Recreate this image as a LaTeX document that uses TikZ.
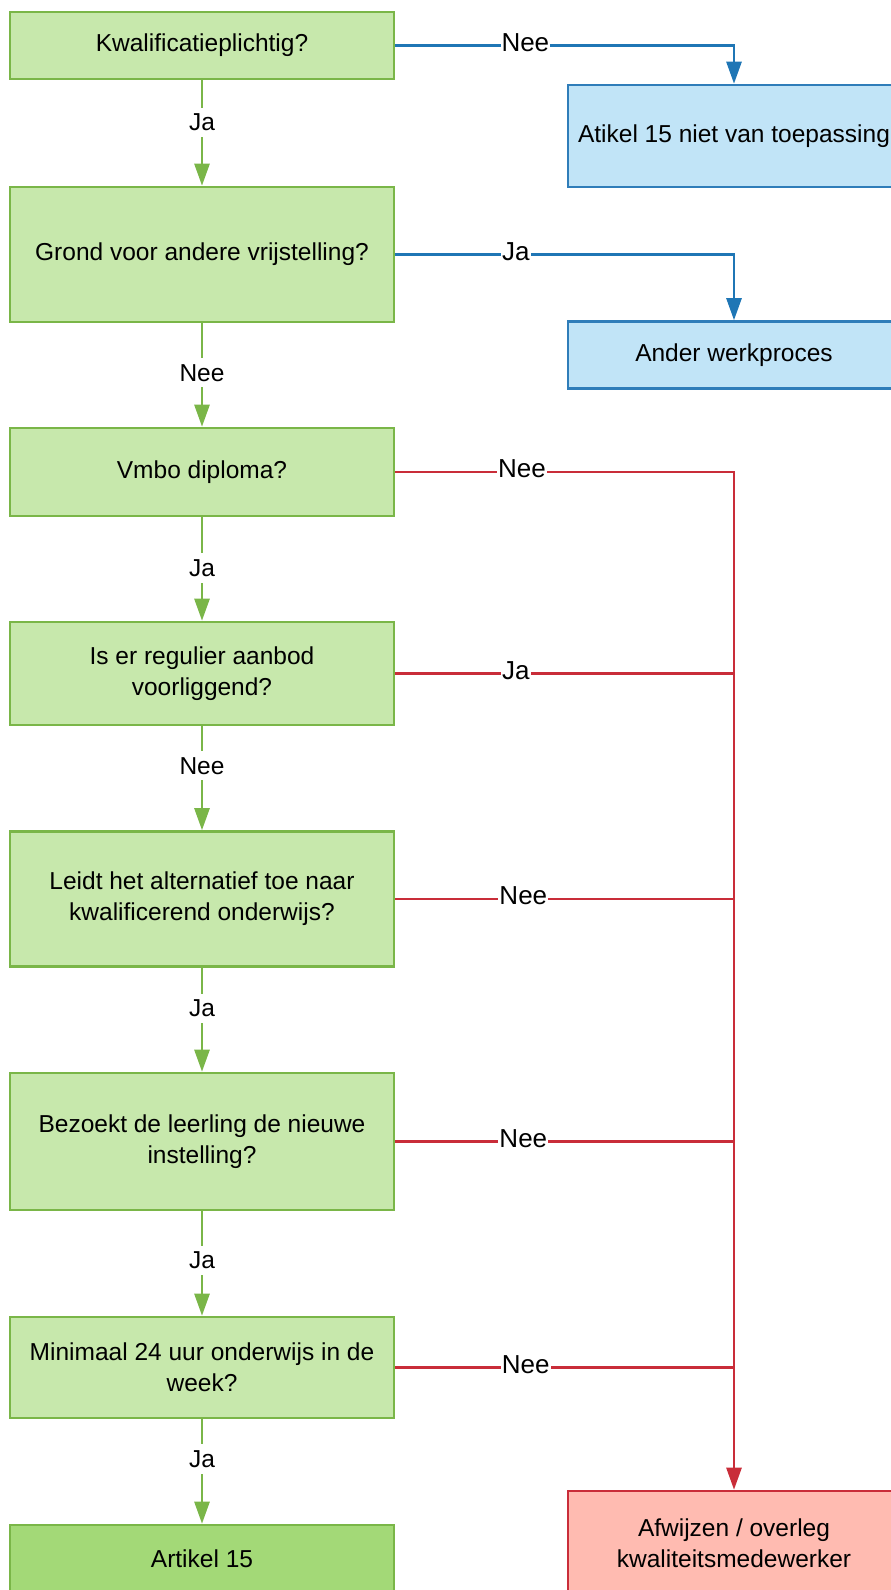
\documentclass[tikz,border=0pt]{standalone}
\usepackage{fontspec}
\setmainfont{Liberation Sans}
\usetikzlibrary{arrows.meta}
\definecolor{gfill}{HTML}{C7E8AC}
\definecolor{gfilldark}{HTML}{A3D977}
\definecolor{gdraw}{HTML}{7AB648}
\definecolor{bfill}{HTML}{C1E4F7}
\definecolor{bdraw}{HTML}{2F7DB9}
\definecolor{bline}{HTML}{1F76B5}
\definecolor{rfill}{HTML}{FFBBB1}
\definecolor{rdraw}{HTML}{C92D39}
\tikzset{
  boxbase/.style={rectangle, line width=2.6pt, align=center,
    font=\fontsize{24.5}{31}\selectfont, inner sep=4pt},
  gbox/.style={boxbase, fill=gfill, draw=gdraw, minimum width=384pt},
  bbox/.style={boxbase, fill=bfill, draw=bdraw, minimum width=332pt},
  rbox/.style={boxbase, fill=rfill, draw=rdraw, minimum width=332pt},
  tip/.style={-{Triangle[length=22pt,width=15pt]}},
  garr/.style={draw=gdraw, line width=2.6pt, tip},
  barr/.style={draw=bline, line width=2.6pt, tip},
  rarr/.style={draw=rdraw, line width=2.6pt, tip},
  rline/.style={draw=rdraw, line width=2.6pt},
  vlbl/.style={fill=white, inner xsep=2pt, inner ysep=6pt,
    font=\fontsize{24.5}{29}\selectfont},
  hlbl/.style={fill=white, inner xsep=1pt, inner ysep=2pt, yshift=3pt,
    font=\fontsize{26}{30}\selectfont}
}
\begin{document}
\begin{tikzpicture}[x=1pt,y=-1pt]
\useasboundingbox (0,0) rectangle (891,1590);
% green decision column
\node[gbox, minimum height=67pt]  (b1) at (202,45.5)  {Kwalificatieplichtig?};
\node[gbox, minimum height=135pt] (b2) at (202,254.5) {Grond voor andere vrijstelling?};
\node[gbox, minimum height=88pt]  (b3) at (202,472)   {Vmbo diploma?};
\node[gbox, minimum height=103pt] (b4) at (202,673.5) {Is er regulier aanbod\\voorliggend?};
\node[gbox, minimum height=135pt] (b5) at (202,899)   {Leidt het alternatief toe naar\\kwalificerend onderwijs?};
\node[gbox, minimum height=137pt] (b6) at (202,1141.5){Bezoekt de leerling de nieuwe\\instelling?};
\node[gbox, minimum height=101pt] (b7) at (202,1367.5){Minimaal 24 uur onderwijs in de\\week?};
\node[gbox, fill=gfilldark, minimum height=68pt] (b8) at (202,1559) {Artikel 15};
% right column
\node[bbox, minimum height=102pt] (n1) at (734,136) {Atikel 15 niet van toepassing};
\node[bbox, minimum height=67pt]  (n2) at (734,355) {Ander werkproces};
\node[rbox, minimum height=104pt] (r)  at (734,1543) {Afwijzen / overleg\\kwaliteitsmedewerker};
% green vertical connectors
\draw[garr] (b1) -- node[vlbl, pos=0.40]{Ja}  (b2);
\draw[garr] (b2) -- node[vlbl, pos=0.48]{Nee} (b3);
\draw[garr] (b3) -- node[vlbl, pos=0.49]{Ja}  (b4);
\draw[garr] (b4) -- node[vlbl, pos=0.38]{Nee} (b5);
\draw[garr] (b5) -- node[vlbl, pos=0.39]{Ja}  (b6);
\draw[garr] (b6) -- node[vlbl, pos=0.47]{Ja}  (b7);
\draw[garr] (b7) -- node[vlbl, pos=0.38]{Ja}  (b8);
% blue connectors
\draw[barr] (b1.east) -| node[hlbl, pos=0.192]{Nee} (n1.north);
\draw[barr] (b2.east) -| node[hlbl, pos=0.178]{Ja}  (n2.north);
% red connectors
\draw[rarr] (b3.east) -| node[hlbl, pos=0.187]{Nee} (r.north);
\draw[rline] (b4.east) -- node[hlbl, pos=0.356]{Ja}  (b4.east -| r.north);
\draw[rline] (b5.east) -- node[hlbl, pos=0.378]{Nee} (b5.east -| r.north);
\draw[rline] (b6.east) -- node[hlbl, pos=0.378]{Nee} (b6.east -| r.north);
\draw[rline] (b7.east) -- node[hlbl, pos=0.385]{Nee} (b7.east -| r.north);
\end{tikzpicture}
\end{document}
